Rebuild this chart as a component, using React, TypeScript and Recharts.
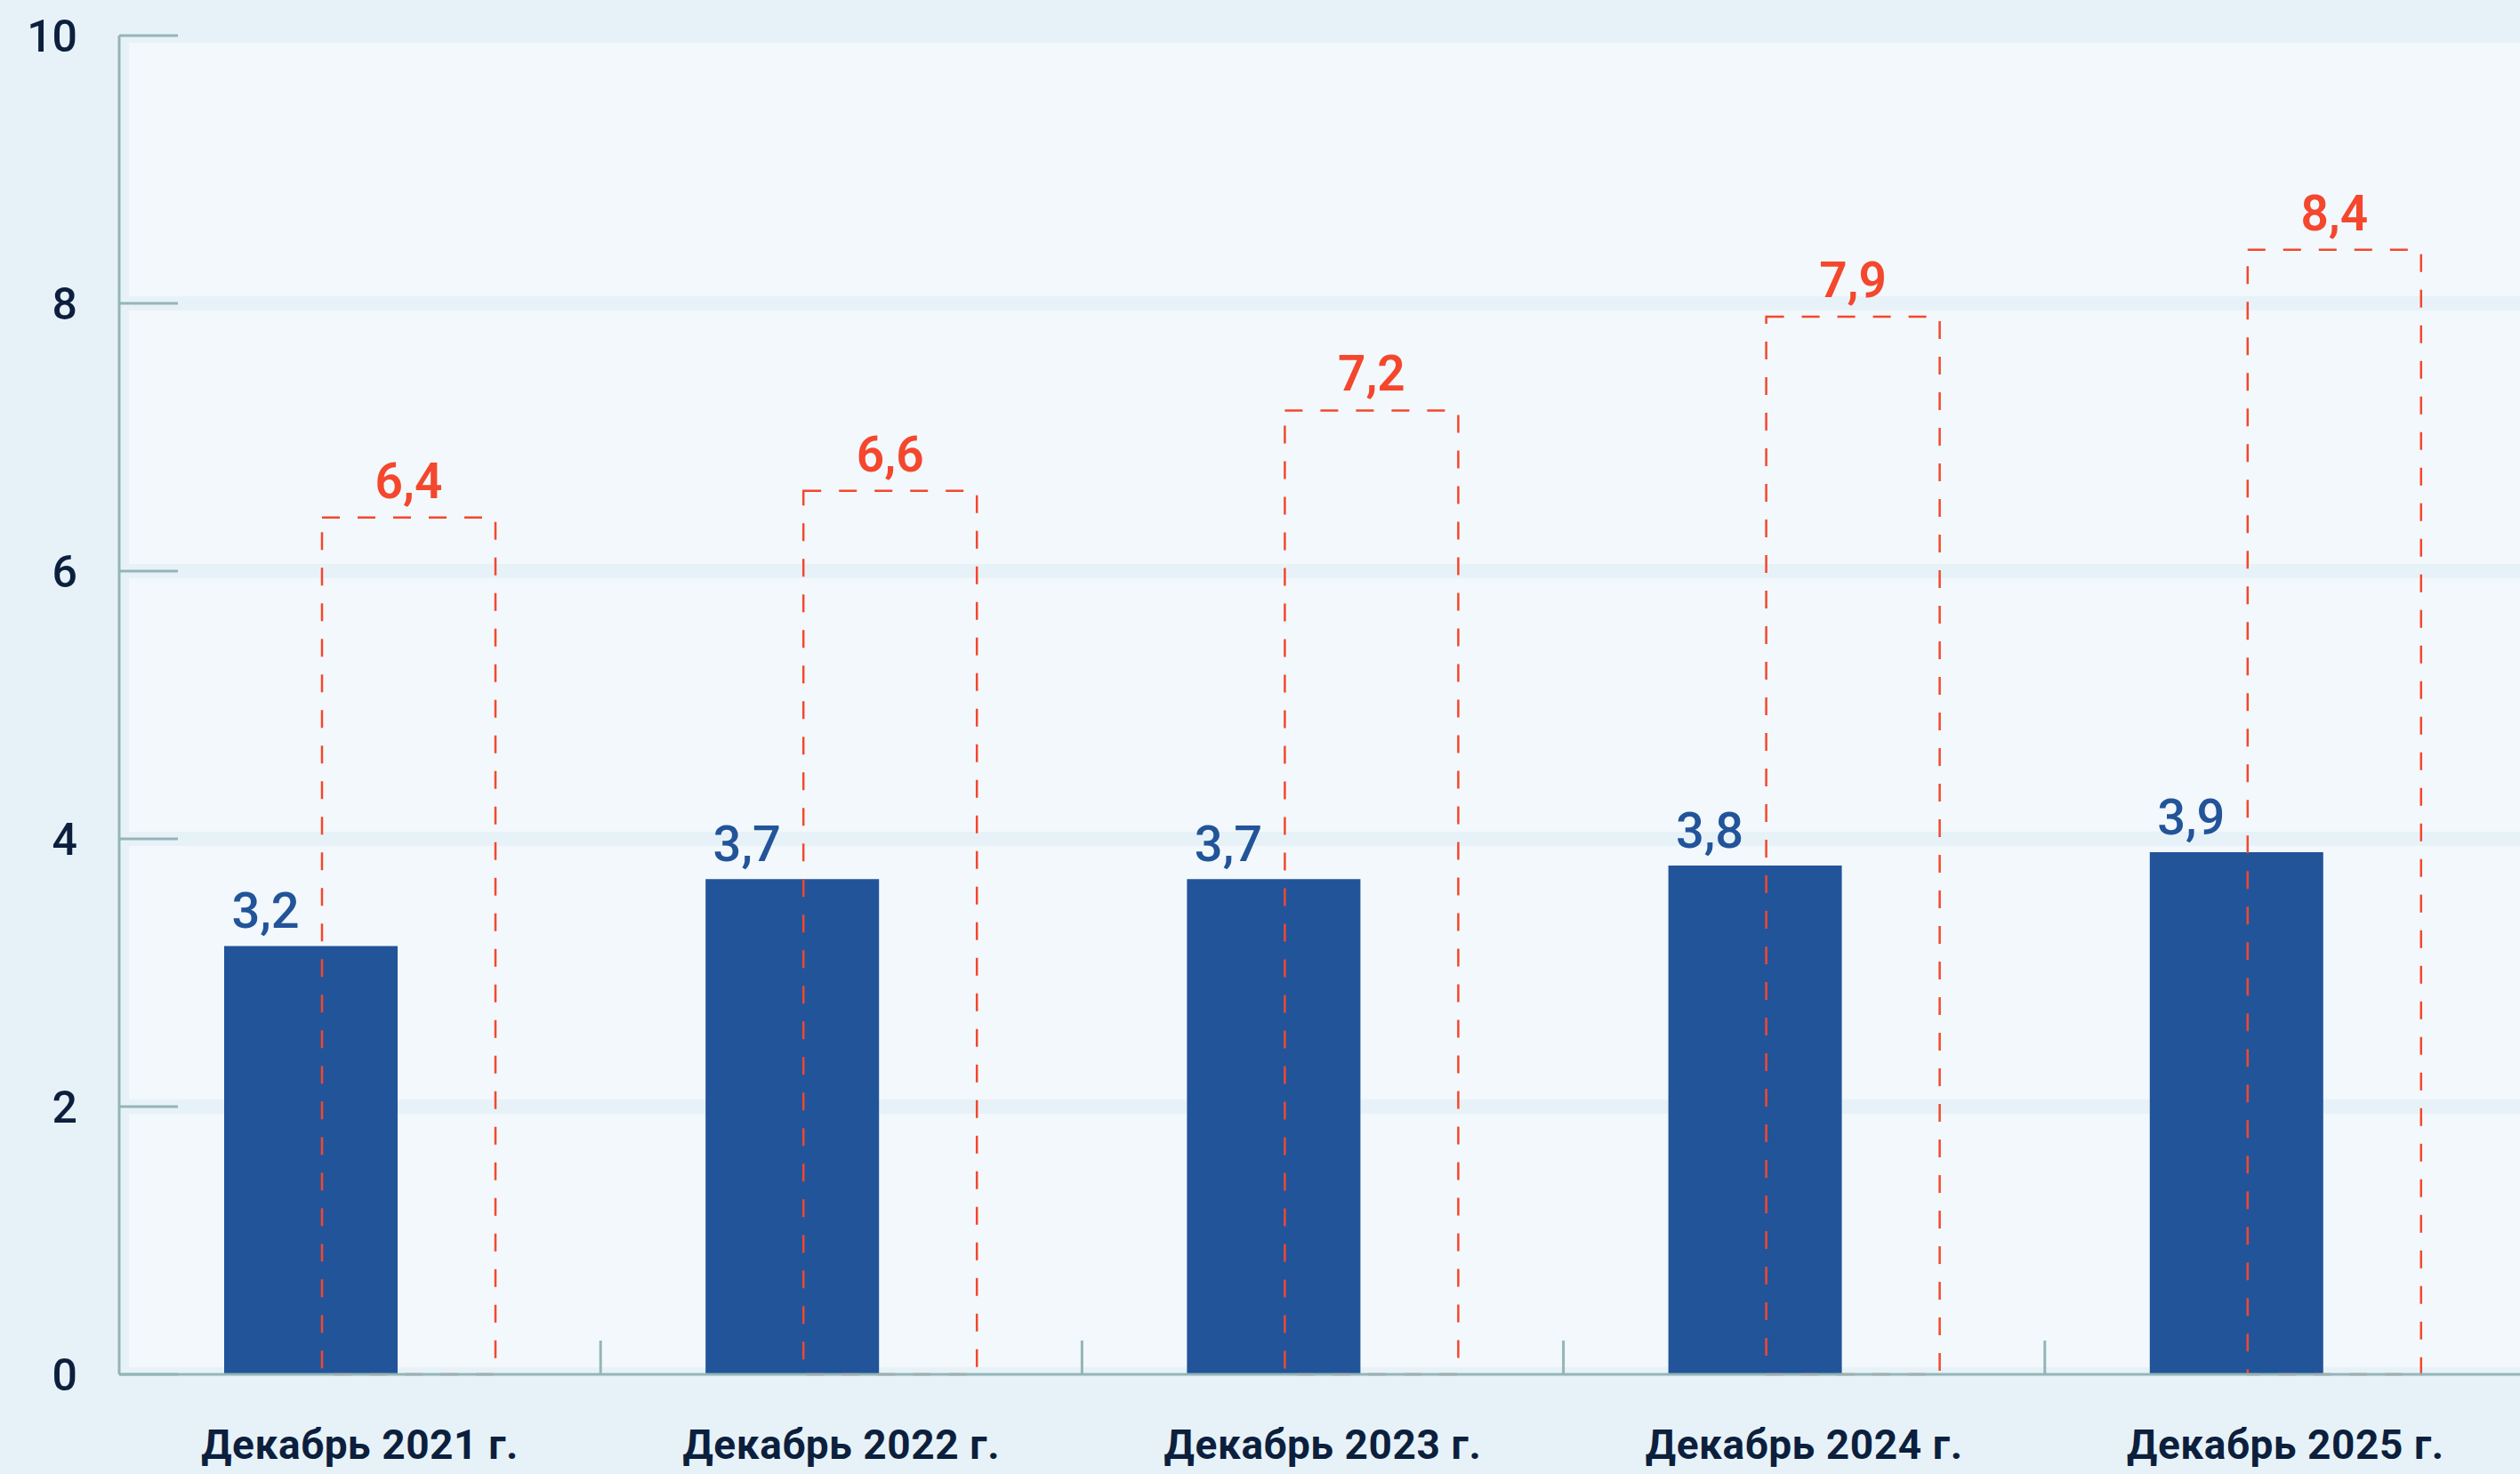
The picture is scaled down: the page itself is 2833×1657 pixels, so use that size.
import { BarChart, Bar, XAxis, YAxis, CartesianGrid, LabelList } from 'recharts';

const categories = ['Декабрь 2021 г.', 'Декабрь 2022 г.', 'Декабрь 2023 г.', 'Декабрь 2024 г.', 'Декабрь 2025 г.'];
const actualValues = [3.2, 3.7, 3.7, 3.8, 3.9];
const targetValues = [6.4, 6.6, 7.2, 7.9, 8.4];
const yTicks = [0, 2, 4, 6, 8, 10];

const data = categories.map((name, i) => ({
  name,
  actual: actualValues[i],
  target: targetValues[i],
}));

const PAGE_BG = '#e7f2f8';
const PLOT_BG = '#f2f8fb';
const AXIS = '#94b5b7';
const BLUE = '#22549a';
const RED = '#f4472d';
const DARK = '#0c1f3d';

const CHART_W = 2840;
const CHART_H = 1657;
const AXIS_X = 134;
const BAND = (CHART_W - AXIS_X) / categories.length;

const fmt = (v: number) => String(v).replace('.', ',');

const YTick = (props: any) => {
  const { x, y, payload } = props;
  return (
    <g>
      <line x1={x} x2={x + 66} y1={y} y2={y} stroke={AXIS} strokeWidth={3} />
      <text
        x={x - 47}
        y={y + 18}
        textAnchor="end"
        fill={DARK}
        fontFamily="Roboto"
        fontWeight={500}
        fontSize={50}
      >
        {payload.value}
      </text>
    </g>
  );
};

const XTick = (props: any) => {
  const { x, y, payload, index } = props;
  return (
    <g>
      {index < categories.length - 1 && (
        <line x1={x + BAND / 2} x2={x + BAND / 2} y1={y} y2={y - 38} stroke={AXIS} strokeWidth={3} />
      )}
      <text
        x={x}
        y={y + 95}
        textAnchor="middle"
        fill={DARK}
        fontFamily="Roboto"
        fontWeight={700}
        fontSize={46}
        letterSpacing={0.6}
      >
        {payload.value}
      </text>
    </g>
  );
};

const BlueLabel = (props: any) => {
  const { x, y, width, value } = props;
  return (
    <text
      x={Number(x) + Number(width) / 2 - 51}
      y={Number(y) - 20}
      textAnchor="middle"
      fill={BLUE}
      fontFamily="Roboto"
      fontWeight={500}
      fontSize={56}
    >
      {fmt(value)}
    </text>
  );
};

const RedLabel = (props: any) => {
  const { x, y, width, value } = props;
  return (
    <text
      x={Number(x) + Number(width) / 2}
      y={Number(y) - 22}
      textAnchor="middle"
      fill={RED}
      fontFamily="Roboto"
      fontWeight={600}
      fontSize={55}
    >
      {fmt(value)}
    </text>
  );
};

export default function App() {
  return (
    <div
      style={{
        position: 'absolute',
        left: 0,
        top: 0,
        width: 2833,
        height: 1657,
        overflow: 'hidden',
        background: PAGE_BG,
      }}
    >
      <BarChart
        width={CHART_W}
        height={CHART_H}
        data={data}
        margin={{ top: 40, right: 0, bottom: 0, left: 0 }}
        barGap={-85}
      >
        <CartesianGrid
          fill={PLOT_BG}
          stroke={PAGE_BG}
          strokeWidth={16}
          verticalPoints={[137]}
        />
        <XAxis
          dataKey="name"
          height={112}
          interval={0}
          tickSize={0}
          tickMargin={0}
          tickLine={false}
          axisLine={{ stroke: AXIS, strokeWidth: 3 }}
          tick={<XTick />}
        />
        <YAxis
          width={AXIS_X}
          domain={[0, 10]}
          ticks={yTicks}
          interval={0}
          tickSize={0}
          tickMargin={0}
          tickLine={false}
          axisLine={{ stroke: AXIS, strokeWidth: 3 }}
          tick={<YTick />}
        />
        <Bar dataKey="actual" fill={BLUE} barSize={195} isAnimationActive={false}>
          <LabelList dataKey="actual" content={BlueLabel} />
        </Bar>
        <Bar
          dataKey="target"
          fill="none"
          stroke={RED}
          strokeWidth={2.5}
          strokeDasharray="20 20"
          barSize={195}
          isAnimationActive={false}
        >
          <LabelList dataKey="target" content={RedLabel} />
        </Bar>
      </BarChart>
    </div>
  );
}
